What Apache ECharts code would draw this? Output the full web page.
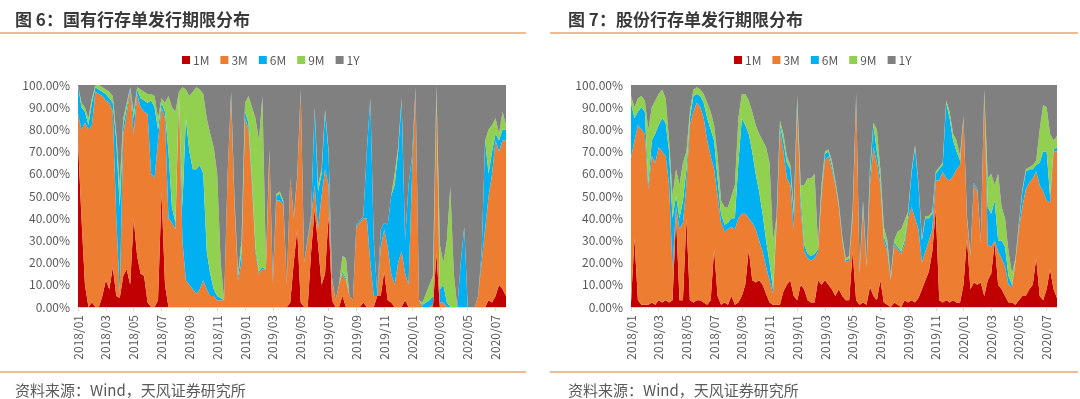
<!DOCTYPE html>
<html>
<head>
<meta charset="utf-8">
<script src="https://cdn.jsdelivr.net/npm/echarts@6/dist/echarts.min.js"></script>
<style>
  html, body { margin: 0; padding: 0; background: #fff; }
  #main { width: 1080px; height: 399px; }
</style>
</head>
<body>
<div id="main"></div>
<script>
// month labels, 4 weekly points per month
var months = ['2018/01','2018/02','2018/03','2018/04','2018/05','2018/06','2018/07','2018/08','2018/09','2018/10','2018/11','2018/12',
  '2019/01','2019/02','2019/03','2019/04','2019/05','2019/06','2019/07','2019/08','2019/09','2019/10','2019/11','2019/12',
  '2020/01','2020/02','2020/03','2020/04','2020/05','2020/06','2020/07'];
var yTicks = [0, 10, 20, 30, 40, 50, 60, 70, 80, 90, 100];
var seriesNames = ['1M', '3M', '6M', '9M', '1Y'];
var colors = ['#C00000', '#ED7D31', '#00B0F0', '#92D050', '#808080'];

// 图6 国有行: cumulative levels (%) - top of 1M, 3M, 6M, 9M
var soe_top1M = [75,40,10,0,2,0,0,5, 12,8,18,5,4,14,17,10, 40,23,15,14,2,0,0,3, 52,10,0,0,0,0,0,0,
  0,0,0,0,0,0,0,0, 0,0,0,0,0,0,0,0, 0,0,0,0,0,0,0,0, 0,0,0,0,0,2,20,35,
  2,0,0,25,44,28,10,15, 41,3,0,0,5,0,0,0, 0,0,2,0,0,0,5,5, 16,3,2,0,0,0,3,0,
  0,0,0,0,0,0,0,24, 0,0,0,0,0,0,0,0, 0,0,0,0,0,0,3,2, 5,10,8,5];
var soe_top3M = [87,80,83,80,82,97,96,95, 93,92,88,40,6,78,87,98, 78,96,90,88,87,60,58,75, 90,85,40,38,35,95,30,12,
  10,8,6,8,12,8,5,5, 3,3,3,60,95,45,12,20, 85,80,55,25,15,17,17,70, 11,48,48,46,10,58,40,58,
  97,20,30,40,55,35,50,62, 55,12,3,10,15,12,5,3, 36,38,40,40,20,5,5,27, 35,27,15,10,20,25,15,10,
  60,98,3,0,0,0,1,94, 2,2,0,0,0,0,0,0, 0,0,0,5,20,35,50,60, 75,70,75,75];
var soe_top6M = [100,90,88,82,92,99,98,97, 96,94,92,75,45,82,90,99, 85,98,94,93,92,93,90,80, 92,88,70,45,38,96,45,85,
  70,62,62,64,60,25,15,8, 5,4,3,60,96,47,14,25, 88,83,58,27,16,18,17,70, 12,50,51,47,10,58,41,59,
  98,20,31,42,89,52,60,88, 70,13,3,10,16,13,5,3, 37,39,41,70,94,30,6,35, 38,37,50,55,70,93,30,55,
  68,99,3,1,2,3,5,96, 8,10,2,0,0,0,20,36, 0,0,0,5,25,75,60,70, 78,75,80,80];
var soe_top9M = [100,92,90,85,94,100,100,99, 98,97,95,78,55,85,92,99, 88,99,98,97,96,96,95,85, 94,92,95,90,88,97,99,98,
  95,97,99,98,96,85,78,72, 60,20,3,60,97,48,15,30, 92,95,90,85,75,95,20,71, 12,51,52,48,10,58,41,59,
  98,20,31,42,90,55,62,89, 71,13,3,10,23,22,5,3, 37,39,41,70,94,30,6,35, 38,37,50,60,72,94,30,55,
  68,99,3,2,6,10,14,100, 28,20,30,54,15,0,20,36, 0,0,0,5,25,75,80,82, 85,78,88,82];

// 图7 股份行
var jsb_top1M = [2,31,3,1,1,1,2,1, 3,2,3,2,3,41,3,3, 40,3,2,3,3,2,1,3, 26,5,1,2,1,5,1,2,
  5,10,26,12,11,12,10,6, 2,1,1,1,7,10,12,5, 3,10,8,3,2,2,12,10, 12,10,8,5,8,5,3,3,
  25,3,1,2,1,9,5,3, 12,2,1,0,2,1,0,3, 2,3,2,4,8,12,16,25, 44,3,2,3,2,3,2,2,
  10,31,8,11,10,11,5,12, 15,29,10,8,5,2,2,1, 3,5,5,8,10,22,5,3, 8,17,8,4];
var jsb_top3M = [67,75,82,80,78,53,68,65, 72,70,68,55,17,45,35,38, 55,82,88,92,90,85,75,68, 62,50,38,34,35,36,35,40,
  42,42,40,38,35,30,25,18, 12,6,35,80,70,58,55,35, 90,45,25,22,21,22,25,50, 66,68,62,55,45,30,20,21,
  40,95,15,45,18,55,72,65, 55,30,25,12,28,26,24,28, 40,45,40,35,20,25,30,35, 57,57,61,58,57,59,62,64,
  85,40,23,55,52,29,97,28, 27,30,25,22,18,10,9,20, 35,45,53,56,58,61,55,52, 48,47,70,70];
var jsb_top6M = [92,85,88,90,88,55,75,78, 82,85,83,70,40,50,40,48, 62,85,95,96,95,92,85,80, 75,58,42,37,38,40,40,65,
  85,82,78,70,60,52,42,30, 20,8,38,82,75,65,62,42, 92,50,28,24,23,24,26,52, 69,70,64,56,46,31,21,22,
  42,96,16,47,19,60,82,70, 58,32,27,13,29,27,25,30, 42,60,72,55,30,40,40,42, 60,62,64,92,85,75,70,66,
  86,40,24,56,53,30,97,45, 42,48,30,30,27,14,10,21, 37,52,61,62,62,64,65,70, 70,50,71,72];
var jsb_top9M = [95,90,94,95,93,80,90,93, 96,98,94,75,50,62,55,65, 70,88,98,99,98,96,92,88, 82,68,48,45,45,50,55,85,
  96,96,93,88,82,78,75,72, 65,30,40,84,78,68,64,45, 95,55,55,58,58,60,28,55, 70,71,66,57,47,32,22,23,
  44,96,17,48,20,63,83,80, 62,36,30,14,30,34,35,39, 43,61,73,56,31,41,41,43, 61,63,65,93,88,78,75,68,
  86,41,24,56,53,30,98,58, 60,55,60,45,40,25,15,22, 38,53,62,63,64,66,80,91, 90,78,75,77];

function weekCats() {
  var cats = [];
  months.forEach(function (m) {
    for (var w = 1; w <= 4; w++) cats.push(m + '-' + w);
  });
  return cats;
}
var categories = weekCats();

function shares(tops) {
  // tops: [1M top, 3M top, 6M top, 9M top] -> share of each term
  var out = [[], [], [], [], []];
  for (var i = 0; i < tops[0].length; i++) {
    var prev = 0;
    for (var k = 0; k < 4; k++) {
      var v = Math.max(tops[k][i], prev);
      out[k].push(v - prev);
      prev = v;
    }
    out[4].push(100 - prev);
  }
  return out;
}

var soeShares = shares([soe_top1M, soe_top3M, soe_top6M, soe_top9M]);
var jsbShares = shares([jsb_top1M, jsb_top3M, jsb_top6M, jsb_top9M]);

var chartDom = document.getElementById('main');
var myChart = echarts.init(chartDom, null, { renderer: 'canvas' });
var option;

var fontCN = '"Noto Sans CJK SC", "Open Sans", sans-serif';
var txtColor = '#595959';

function makeSeries(sh, idx, stack) {
  return seriesNames.map(function (name, k) {
    return {
      name: name,
      type: 'line',
      stack: stack,
      xAxisIndex: idx,
      yAxisIndex: idx,
      showSymbol: false,
      symbol: 'none',
      lineStyle: { width: 0 },
      areaStyle: { color: colors[k], opacity: 1 },
      itemStyle: { color: colors[k] },
      data: sh[k]
    };
  });
}

function makeX(idx) {
  return {
    type: 'category',
    gridIndex: idx,
    boundaryGap: false,
    data: categories,
    axisLine: { show: true, lineStyle: { color: '#D9D9D9' } },
    axisTick: {
      show: true, length: 4, lineStyle: { color: '#D9D9D9' },
      interval: function (i) { return i % 8 === 0; }
    },
    axisLabel: {
      rotate: 90,
      margin: 8,
      fontSize: 12,
      color: txtColor,
      fontFamily: fontCN,
      interval: function (i) { return i % 8 === 0; },
      formatter: function (v) { return v.slice(0, 7); }
    },
    splitLine: { show: false }
  };
}

function makeY(idx) {
  return {
    type: 'value',
    gridIndex: idx,
    min: yTicks[0],
    max: yTicks[yTicks.length - 1],
    interval: 10,
    axisLine: { show: false },
    axisTick: { show: false },
    splitLine: { show: false },
    axisLabel: {
      fontSize: 12,
      color: txtColor,
      fontFamily: fontCN,
      margin: 8,
      formatter: function (v) { return v.toFixed(2) + '%'; }
    }
  };
}

function makeLegend(left) {
  return {
    data: seriesNames,
    top: 49,
    left: left,
    icon: 'rect',
    itemWidth: 8,
    itemHeight: 8,
    itemGap: 11,
    textStyle: { fontSize: 12, color: txtColor, fontFamily: fontCN, padding: [0, 0, 0, -2] }
  };
}

option = {
  animation: false,
  backgroundColor: '#fff',
  color: colors,
  title: [
    {
      text: '图 6：国有行存单发行期限分布',
      left: 10, top: 6,
      textStyle: { fontSize: 17, fontWeight: 'bold', color: '#3a3a3a', fontFamily: fontCN }
    },
    {
      text: '图 7：股份行存单发行期限分布',
      left: 563, top: 6,
      textStyle: { fontSize: 17, fontWeight: 'bold', color: '#3a3a3a', fontFamily: fontCN }
    },
    {
      text: '资料来源：Wind，天风证券研究所',
      left: 10, top: 378,
      textStyle: { fontSize: 15, fontWeight: 'normal', color: txtColor, fontFamily: fontCN }
    },
    {
      text: '资料来源：Wind，天风证券研究所',
      left: 563, top: 378,
      textStyle: { fontSize: 15, fontWeight: 'normal', color: txtColor, fontFamily: fontCN }
    }
  ],
  legend: [makeLegend(177), makeLegend(729)],
  grid: [
    { left: 78, top: 85, width: 428, height: 222 },
    { left: 631, top: 85, width: 426, height: 222 }
  ],
  xAxis: [makeX(0), makeX(1)],
  yAxis: [makeY(0), makeY(1)],
  series: makeSeries(soeShares, 0, 'soe').concat(makeSeries(jsbShares, 1, 'jsb')),
  graphic: [
    { type: 'line', shape: { x1: 0, y1: 33, x2: 526, y2: 33 }, style: { stroke: '#EBA46B', lineWidth: 1.5 } },
    { type: 'line', shape: { x1: 550, y1: 33, x2: 1078, y2: 33 }, style: { stroke: '#EBA46B', lineWidth: 1.5 } },
    { type: 'line', shape: { x1: 0, y1: 372, x2: 526, y2: 372 }, style: { stroke: '#EBA46B', lineWidth: 1.5 } },
    { type: 'line', shape: { x1: 550, y1: 372, x2: 1078, y2: 372 }, style: { stroke: '#EBA46B', lineWidth: 1.5 } }
  ]
};

option && myChart.setOption(option);
</script>
</body>
</html>
